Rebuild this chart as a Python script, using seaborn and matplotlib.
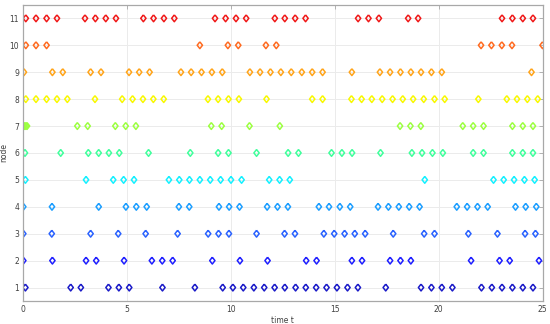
import numpy as np
import pandas as pd
import matplotlib
matplotlib.use('Agg')
import matplotlib.pyplot as plt
import seaborn as sns

# event times for each node
node1 = [0.1, 2.28, 2.77, 4.1, 4.6, 5.1, 6.7, 8.26, 9.6, 10.09, 10.59, 11.1, 11.6, 12.1,
         12.59, 13.11, 13.6, 14.1, 14.6, 15.1, 15.61, 16.11, 17.45, 19.15, 19.65, 20.15,
         20.66, 22.06, 22.56, 23.05, 23.55, 24.05, 24.54]
node2 = [0.0, 1.4, 3.02, 3.51, 4.85, 6.19, 6.69, 7.19, 9.1, 10.43, 11.76, 13.62, 14.12,
         15.82, 16.31, 17.66, 18.16, 18.66, 21.56, 22.93, 23.42, 24.83]
node3 = [0.0, 1.37, 3.24, 4.57, 5.89, 7.43, 8.9, 9.4, 9.9, 11.23, 12.58, 13.08, 14.47,
         14.97, 15.47, 15.96, 16.46, 17.81, 19.3, 19.8, 21.43, 22.83, 24.16, 24.66]
node4 = [0.0, 1.38, 3.63, 4.94, 5.44, 5.94, 7.49, 7.99, 9.42, 9.91, 10.41, 11.74, 12.24,
         12.74, 14.23, 14.72, 15.24, 15.74, 17.08, 17.58, 18.08, 18.58, 19.08, 20.87,
         21.37, 21.87, 22.36, 23.7, 24.19, 24.7]
node5 = [0.1, 3.02, 4.33, 4.83, 5.33, 7.01, 7.51, 8.0, 8.5, 9.0, 9.5, 10.0, 10.51, 11.84,
         12.34, 12.83, 19.33, 22.64, 23.13, 23.63, 24.13, 24.62]
node6 = [0.08, 1.8, 3.13, 3.63, 4.12, 4.62, 6.03, 8.04, 9.38, 9.88, 11.23, 12.75, 13.25,
         14.84, 15.34, 15.83, 17.2, 18.71, 19.2, 19.7, 20.2, 21.66, 22.16, 23.55, 24.05,
         24.54]
node7 = [0.0, 0.05, 0.12, 0.18, 2.6, 3.1, 4.43, 4.93, 5.42, 9.05, 9.55, 10.89, 12.35,
         18.14, 18.64, 19.14, 21.16, 21.66, 22.16, 23.55, 24.05, 24.54]
node8 = [0.12, 0.61, 1.12, 1.62, 2.12, 3.45, 4.76, 5.26, 5.76, 6.26, 6.76, 8.89, 9.38,
         9.88, 10.38, 11.71, 13.91, 14.41, 15.8, 16.29, 16.78, 17.28, 17.78, 18.27,
         18.77, 19.28, 19.8, 20.29, 21.91, 23.28, 23.77, 24.27, 24.77]
node9 = [0.03, 1.4, 1.9, 3.24, 3.74, 5.09, 5.58, 6.08, 7.59, 8.08, 8.58, 9.08, 9.58,
         10.91, 11.4, 11.9, 12.4, 12.9, 13.41, 13.91, 14.41, 15.82, 17.17, 17.66, 18.16,
         18.66, 19.15, 19.65, 20.15, 24.47]
node10 = [0.12, 0.61, 1.12, 8.5, 9.85, 10.35, 11.68, 12.18, 22.04, 22.54, 23.04, 23.53,
          25.0]
node11 = [0.12, 0.61, 1.12, 1.62, 2.97, 3.47, 3.97, 4.46, 5.78, 6.27, 6.77, 7.27, 9.23,
          9.74, 10.24, 10.73, 12.11, 12.59, 13.09, 13.59, 16.12, 16.62, 17.12, 18.53,
          19.01, 23.05, 23.55, 24.05, 24.54]

node_colors = ['#1a1ac8', '#1f1fff', '#2a62ff', '#1c9eff', '#14f0ff', '#40ff9c',
               '#9cff40', '#f8f800', '#ffa41a', '#ff6a1f', '#f01818']

rows = []
for i, times in enumerate([node1, node2, node3, node4, node5, node6,
                           node7, node8, node9, node10, node11]):
    for t in times:
        rows.append((t, i + 1))
df = pd.DataFrame(rows, columns=['time', 'node'])

sns.set_style('whitegrid')
fig = plt.figure(figsize=(5.5, 3.24), dpi=100)
ax = fig.add_axes([0.0424, 0.071, 0.944, 0.914])

# slightly wider diamond than matplotlib's 'd'
diamond = [(0, 1), (0.78, 0), (0, -1), (-0.78, 0), (0, 1)]
sns.scatterplot(data=df, x='time', y='node', hue='node', palette=node_colors,
                marker=diamond, s=24, linewidth=1.1, legend=False, ax=ax)
# open diamonds: move the fill colour to the edge
for coll in ax.collections:
    fc = coll.get_facecolors()
    coll.set_edgecolors(fc)
    coll.set_facecolors('none')

ax.set_xlim(0, 25)
ax.set_ylim(0.5, 11.5)
ax.set_xticks(np.arange(0, 26, 5))
ax.set_yticks(np.arange(1, 12))
ax.grid(True, color='#ebebeb', linewidth=0.7)
for sp in ax.spines.values():
    sp.set_visible(True)
    sp.set_color('#a8a8a8')
    sp.set_linewidth(0.9)
ax.tick_params(direction='in', length=3, width=0.6, color='#a8a8a8',
               labelsize=5.5, labelcolor='#404040', top=True, right=True, pad=3)
ax.set_xlabel('time t', fontsize=5.5, color='#404040', labelpad=1)
ax.set_ylabel('node', fontsize=5.5, color='#404040', labelpad=1)

fig.savefig('out.png', dpi=100)
